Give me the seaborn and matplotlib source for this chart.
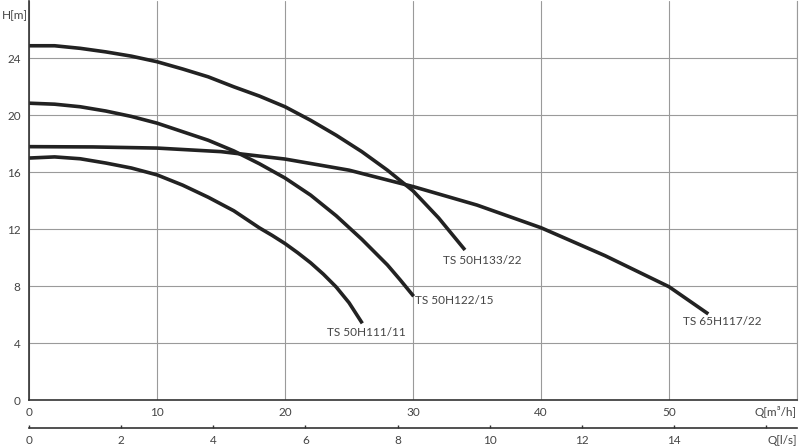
import matplotlib
matplotlib.use("Agg")
import matplotlib.pyplot as plt
import seaborn as sns
import pandas as pd

# ---- data ----
pumps = ["TS 50H133/22", "TS 50H122/15", "TS 65H117/22", "TS 50H111/11"]

q_133 = [0, 2, 4, 6, 8, 10, 12, 14, 16, 18, 20, 22, 24, 26, 28, 30, 32, 34.06]
h_133 = [24.88, 24.88, 24.7, 24.45, 24.15, 23.76, 23.25, 22.7, 22.0, 21.35,
         20.6, 19.65, 18.6, 17.45, 16.15, 14.7, 12.8, 10.55]

q_122 = [0, 2, 4, 6, 8, 10, 12, 14, 16, 18, 20, 22, 24, 26, 28, 29, 30.05]
h_122 = [20.85, 20.78, 20.6, 20.3, 19.92, 19.45, 18.85, 18.25, 17.5, 16.6,
         15.6, 14.4, 12.95, 11.3, 9.5, 8.45, 7.3]

q_117 = [0, 5, 10, 15, 20, 25, 30, 35, 40, 45, 50, 53.07]
h_117 = [17.8, 17.78, 17.7, 17.45, 16.93, 16.15, 15.0, 13.7, 12.11, 10.15, 7.97, 6.06]

q_111 = [0, 2, 4, 6, 8, 10, 12, 14, 16, 18, 19, 20, 21, 22, 23, 24, 25, 26.04]
h_111 = [17.0, 17.08, 16.95, 16.65, 16.3, 15.82, 15.1, 14.25, 13.3, 12.1,
         11.57, 11.0, 10.35, 9.65, 8.85, 7.95, 6.85, 5.4]

x_ticks = [0, 10, 20, 30, 40, 50]
y_ticks = [0, 4, 8, 12, 16, 20, 24]
ls_ticks = [0, 2, 4, 6, 8, 10, 12, 14, 16]

curves = {
    pumps[0]: (q_133, h_133),
    pumps[1]: (q_122, h_122),
    pumps[2]: (q_117, h_117),
    pumps[3]: (q_111, h_111),
}

rows = []
for name, (qs, hs) in curves.items():
    for i, (q, h) in enumerate(zip(qs, hs)):
        rows.append({"pump": name, "Q": q, "H": h, "order": i})
df = pd.DataFrame(rows)

# ---- style ----
sns.set_theme(style="white")
plt.rcParams["font.family"] = ["Lato", "DejaVu Sans"]

line_col = "#222222"
grid_col = "#9a9a9a"
text_col = "#444444"

fig = plt.figure(figsize=(8, 4.48), dpi=100)
ax = fig.add_axes([29 / 800, 47.7 / 448, 768 / 800, 399 / 448])

sns.lineplot(data=df, x="Q", y="H", hue="pump", units="pump", estimator=None,
             sort=False, palette=[line_col] * 4, linewidth=2.6, legend=False,
             ax=ax, solid_capstyle="butt", solid_joinstyle="round")

ax.set_xlim(0, 60)
ax.set_ylim(0, 28)
ax.set_xticks(x_ticks + [60])
ax.set_xticklabels([str(t) for t in x_ticks] + [""])
ax.set_yticks(y_ticks)
ax.set_yticklabels([str(t) for t in y_ticks])
ax.set_xlabel("")
ax.set_ylabel("")

ax.grid(True, color=grid_col, linewidth=0.8)
ax.set_axisbelow(True)
ax.tick_params(axis="both", length=0, labelsize=8.5, colors=text_col)
ax.tick_params(axis="x", pad=5)
ax.tick_params(axis="y", pad=6)

ax.spines["top"].set_visible(False)
ax.spines["right"].set_color(grid_col)
ax.spines["right"].set_linewidth(0.8)
for s in ["left", "bottom"]:
    ax.spines[s].set_color("#333333")
    ax.spines[s].set_linewidth(1.2)

# curve labels at end points
offsets = {pumps[0]: (-22, -11), pumps[1]: (1, -4), pumps[2]: (-25, -8), pumps[3]: (-35, -9)}
for name, (qs, hs) in curves.items():
    ax.annotate(name, xy=(qs[-1], hs[-1]), xytext=offsets[name],
                textcoords="offset pixels", ha="left", va="center",
                fontsize=8.5, color=text_col)

# secondary l/s axis
sec = ax.secondary_xaxis(-0.0702, functions=(lambda x: x / 3.6, lambda x: x * 3.6))
sec.set_xticks(ls_ticks)
sec.set_xticklabels([str(t) if t != 16 else "" for t in ls_ticks])
sec.tick_params(axis="x", direction="in", length=2.5, width=1, colors="#333333",
                labelcolor=text_col, labelsize=8.5, pad=5)
sec.spines["bottom"].set_color("#333333")
sec.spines["bottom"].set_linewidth(1.2)

# axis titles
fig.text(2 / 800, 1 - 16 / 448, "H[m]", ha="left", va="center", fontsize=8.5, color=text_col)
fig.text(797 / 800, 1 - 412 / 448, "Q[m³/h]", ha="right", va="center", fontsize=8.5, color=text_col)
fig.text(797 / 800, 1 - 440 / 448, "Q[l/s]", ha="right", va="center", fontsize=8.5, color=text_col)

fig.savefig("out.png", dpi=100)
